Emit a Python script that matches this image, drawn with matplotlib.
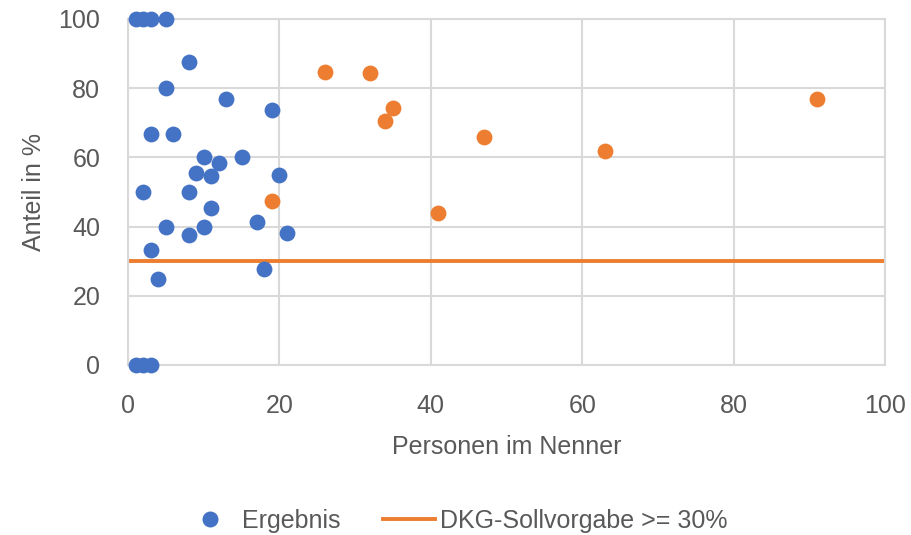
import matplotlib.pyplot as plt
from matplotlib.lines import Line2D

# Ergebnisse je Zentrum: Personen im Nenner und Anteil in %
blue_n = [1, 2, 3, 5, 8, 5, 13, 19, 3, 6, 10, 15, 12, 9, 11, 20, 2, 8,
          11, 5, 10, 8, 17, 21, 3, 4, 18, 1, 2, 3]
blue_pct = [100, 100, 100, 100, 87.5, 80, 76.9, 73.7, 66.7, 66.7, 60, 60,
            58.3, 55.6, 54.5, 55, 50, 50, 45.5, 40, 40, 37.5, 41.2, 38.1,
            33.3, 25, 27.8, 0, 0, 0]

# Zentren mit größerem Nenner (orange hervorgehoben)
orange_n = [19, 26, 32, 35, 34, 41, 47, 63, 91]
orange_pct = [47.4, 84.6, 84.4, 74.3, 70.6, 43.9, 66.0, 61.9, 76.9]

# Sollvorgabe
target_x = [0, 100]
target_y = [30, 30]

plt.rcParams["font.family"] = ["Liberation Sans", "DejaVu Sans"]
plt.rcParams["text.color"] = "#595959"

blue = "#4472C4"
orange = "#ED7D31"
grey = "#D9D9D9"
fs = 18

fig = plt.figure(figsize=(9.12, 5.35), dpi=100)
ax = fig.add_axes([128 / 912, 1 - 365 / 535, (885 - 128) / 912, (365 - 19) / 535])

ax.plot(target_x, target_y, color=orange, lw=2.8, zorder=2, solid_capstyle="butt")
ax.scatter(blue_n, blue_pct, s=130, color=blue, zorder=3, clip_on=False, linewidths=0)
ax.scatter(orange_n, orange_pct, s=130, color=orange, zorder=3, clip_on=False, linewidths=0)

ax.set_xlim(0, 100)
ax.set_ylim(0, 100)
ax.set_xticks(range(0, 101, 20))
ax.set_yticks(range(0, 101, 20))
ax.grid(True, color=grey, lw=1.5)
ax.set_axisbelow(True)
for s in ax.spines.values():
    s.set_color(grey)
    s.set_linewidth(1.5)
ax.tick_params(length=0, labelsize=fs, labelcolor="#595959")
ax.tick_params(axis="x", pad=21)
ax.tick_params(axis="y", pad=20)

ax.set_xlabel("Personen im Nenner", fontsize=fs, color="#595959", labelpad=12)
ax.set_ylabel("Anteil in %", fontsize=fs, color="#595959", labelpad=9)

handles = [
    Line2D([], [], marker="o", ls="none", color=blue, markersize=10.5),
    Line2D([], [], color=orange, lw=2.8),
]
fig.legend(handles, ["Ergebnis", "DKG-Sollvorgabe >= 30%"], loc="center",
           bbox_to_anchor=(0.5, 1 - 521 / 535), ncol=2, frameon=False,
           fontsize=fs, handlelength=2.1, columnspacing=1.7, handletextpad=0.2,
           borderpad=0, borderaxespad=0)

fig.savefig("out.png", dpi=100)
